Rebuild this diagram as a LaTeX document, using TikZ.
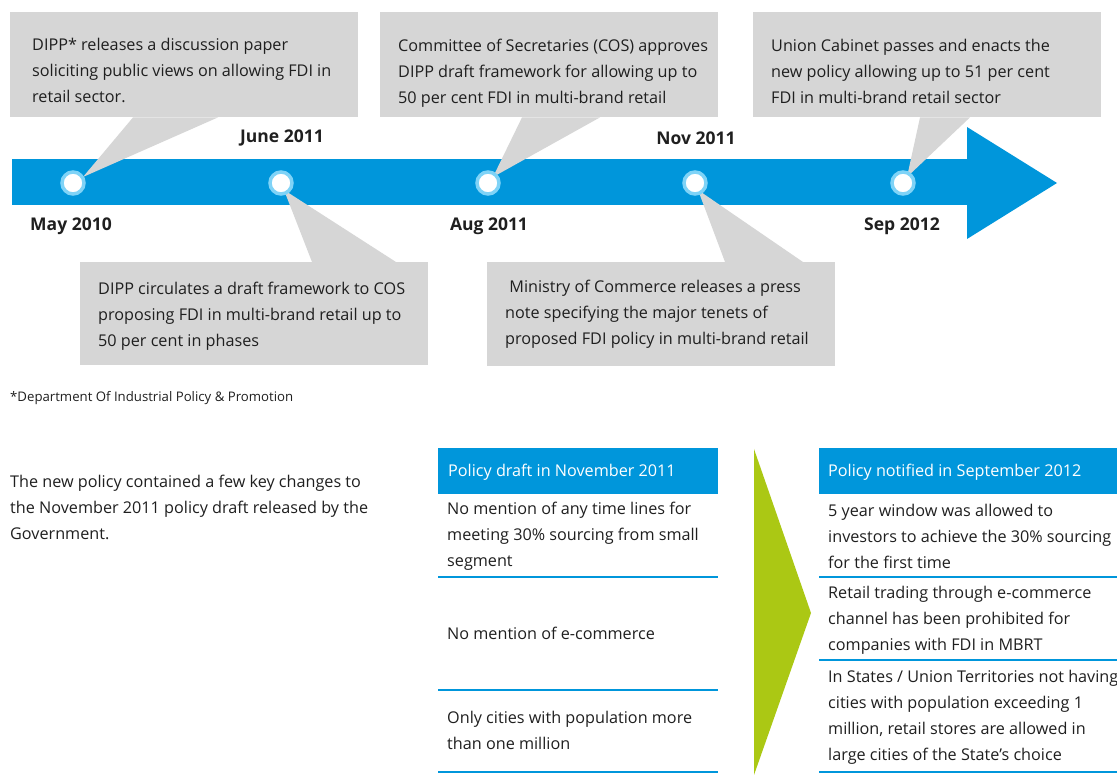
\documentclass[tikz,border=0pt]{standalone}
\usepackage{fontspec}
\setmainfont{Open Sans}
\usetikzlibrary{calc, positioning}

\definecolor{dblue}{HTML}{0096DB}
\definecolor{glow}{HTML}{7FD3F7}
\definecolor{dgreen}{HTML}{ABC814}
\definecolor{callgray}{HTML}{D6D6D6}
\definecolor{ink}{HTML}{1F1F1F}

\tikzset{
	callout/.style = {fill = callgray, anchor = north west, inner sep = 0},
	calltext/.style = {anchor = north west, align = left, inner sep = 0, text = ink,
		font = \fontsize{16.2}{26.2}\selectfont},
	milestone/.style = {circle, fill = white, draw = glow, line width = 3.5pt,
		minimum size = 22pt, inner sep = 0},
	datelabel/.style = {inner sep = 0, text = ink, font = \fontsize{17.5}{20}\selectfont\bfseries},
	headbox/.style = {fill = dblue, anchor = north west, inner sep = 0},
	headtext/.style = {anchor = west, inner sep = 0, text = white,
		font = \fontsize{16.2}{20}\selectfont},
	rowline/.style = {dblue, line width = 1.6pt},
}

\begin{document}
\begin{tikzpicture}[x = 1pt, y = -1pt]
		\useasboundingbox (0,0) rectangle (1117,775);
		
		% timeline band and arrow head
		\fill[dblue] (12,159) rectangle (968,205);
		\fill[dblue] (967,127) -- (1057,183) -- (967,239) -- cycle;
		
		% callout boxes
		\node[callout, minimum width = 348pt, minimum height = 105pt] (b1) at (10,12) {};
		\node[callout, minimum width = 338pt, minimum height = 105pt] (b2) at (380,12) {};
		\node[callout, minimum width = 348pt, minimum height = 105pt] (b3) at (753,12) {};
		\node[callout, minimum width = 348pt, minimum height = 103pt] (b4) at (80,262) {};
		\node[callout, minimum width = 348pt, minimum height = 104pt] (b5) at (487,262) {};
		
		\node[calltext, below right = 26pt and 22pt of b1.north west] (t1)
			{DIPP* releases a discussion paper\\soliciting public views on allowing FDI in\\retail sector.};
		\node[calltext, below right = 27pt and 18pt of b2.north west] (t2)
			{Committee of Secretaries (COS) approves\\DIPP draft framework for allowing up to\\50 per cent FDI in multi-brand retail};
		\node[calltext, below right = 27pt and 18pt of b3.north west] (t3)
			{Union Cabinet passes and enacts the\\new policy allowing up to 51 per cent\\FDI in multi-brand retail sector};
		\node[calltext, below right = 19.5pt and 18pt of b4.north west] (t4)
			{DIPP circulates a draft framework to COS\\proposing FDI in multi-brand retail up to\\50 per cent in phases};
		\node[calltext, below right = 17.5pt and 18pt of b5.north west] (t5)
			{\ Ministry of Commerce releases a press\\note specifying the major tenets of\\proposed FDI policy in multi-brand retail};
		
		% milestones
		\coordinate (m1) at (73,183);
		\coordinate (m2) at (281,183);
		\coordinate (m3) at (488,183);
		\coordinate (m4) at (695,183);
		\coordinate (m5) at (903,183);
		
		% callout tails
		\fill[callgray] ($(b1.south west) + (123,0)$) -- ($(b1.south west) + (208,0)$) -- ($(m1) + (10,-6)$) -- cycle;
		\fill[callgray] ($(b2.south west) + (142,0)$) -- ($(b2.south west) + (220,0)$) -- ($(m3) + (5,-6)$) -- cycle;
		\fill[callgray] ($(b3.south west) + (167,0)$) -- ($(b3.south west) + (217,0)$) -- ($(m5) + (4,-6)$) -- cycle;
		\fill[callgray] ($(b4.north west) + (232,0)$) -- ($(b4.north west) + (316,0)$) -- ($(m2) + (3,7)$) -- cycle;
		\fill[callgray] ($(b5.north west) + (238,0)$) -- ($(b5.north west) + (316,0)$) -- ($(m4) + (3,7)$) -- cycle;
		
		\foreach \i in {1,...,5}
			\node[milestone] (c\i) at (m\i) {};
		
		% dates
		\node[datelabel] (d1) at (71,226) {May 2010};
		\node[datelabel] (d2) at (282,138) {June 2011};
		\node[datelabel] (d3) at (489,226) {Aug 2011};
		\node[datelabel] (d4) at (696,138) {Nov 2011};
		\node[datelabel] (d5) at (902,226) {Sep 2012};
		
		\node[anchor = west, inner sep = 0, text = ink, font = \fontsize{13.2}{15}\selectfont] (note) at (10,398)
			{*Department Of Industrial Policy \& Promotion};
		
		\node[calltext] (intro) at (10,474.5)
			{The new policy contained a few key changes to\\the November 2011 policy draft released by the\\Government.};
		
		% comparison arrow
		\fill[dgreen] (754,449) -- (811,613) -- (754,775) -- cycle;
		
		% old policy table
		\node[headbox, minimum width = 280pt, minimum height = 46pt] (h1) at (438,448) {};
		\node[headtext] (ht1) at ($(h1.west) + (10,1)$) {Policy draft in November 2011};
		\node[calltext] (r11) at (447,501.5)
			{No mention of any time lines for\\meeting 30\% sourcing from small\\segment};
		\node[calltext] (r12) at (447,626.5) {No mention of e-commerce};
		\node[calltext] (r13) at (447,710.5) {Only cities with population more\\than one million};
		\draw[rowline] (h1.south west |- 0,577) coordinate (s11) -- (h1.south east |- 0,577);
		\draw[rowline] (h1.south west |- 0,690) coordinate (s12) -- (h1.south east |- 0,690);
		\draw[rowline] (h1.south west |- 0,772) coordinate (s13) -- (h1.south east |- 0,772);
		
		% new policy table
		\node[headbox, minimum width = 298pt, minimum height = 46pt] (h2) at (819,448) {};
		\node[headtext] (ht2) at ($(h2.west) + (9,1)$) {Policy notified in September 2012};
		\node[calltext] (r21) at (828,503.5)
			{5 year window was allowed to\\investors to achieve the 30\% sourcing\\for the first time};
		\node[calltext] (r22) at (828,585.5)
			{Retail trading through e-commerce\\channel has been prohibited for\\companies with FDI in MBRT};
		\node[calltext] (r23) at (828,669.5)
			{In States / Union Territories not having\\cities with population exceeding 1\\million, retail stores are allowed in\\large cities of the State’s choice};
		\draw[rowline] (h2.south west |- 0,577) coordinate (s21) -- (h2.south east |- 0,577);
		\draw[rowline] (h2.south west |- 0,660) coordinate (s22) -- (h2.south east |- 0,660);
		\draw[rowline] (h2.south west |- 0,772) coordinate (s23) -- (h2.south east |- 0,772);
	\end{tikzpicture}
\end{document}
